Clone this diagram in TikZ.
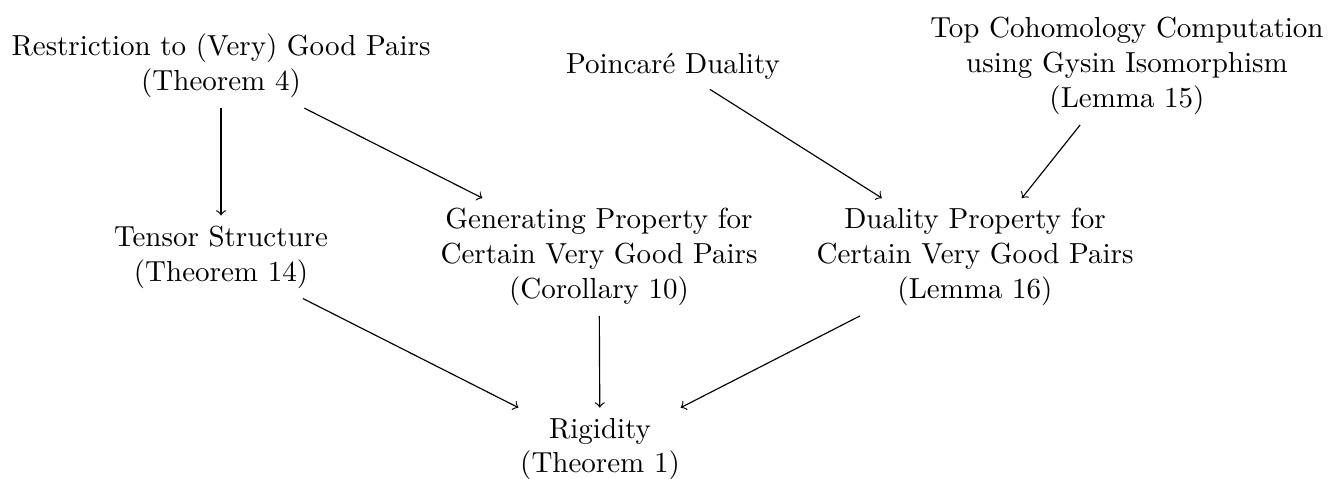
\documentclass[tikz,border=0pt]{standalone}
\usetikzlibrary{arrows}
\begin{document}
\begin{tikzpicture}[x=0.3448pt,y=-0.3448pt,
  box/.style={align=center},
  link/.style={->}]
\useasboundingbox (0,0) rectangle (1329,478);
\node[box] (A) at (221,66) {Restriction to (Very) Good Pairs\\(Theorem 4)};
\node[box] (P) at (673,66) {Poincar\'e Duality};
\node[box] (T) at (1127,66) {Top Cohomology Computation\\using Gysin Isomorphism\\(Lemma 15)};
\node[box] (TS) at (221,257) {Tensor Structure\\(Theorem 14)};
\node[box] (G) at (599,257) {Generating Property for\\Certain Very Good Pairs\\(Corollary 10)};
\node[box] (D) at (975,257) {Duality Property for\\Certain Very Good Pairs\\(Lemma 16)};
\node[box] (R) at (600,449) {Rigidity\\(Theorem 1)};
\draw[link] (A) -- (TS);
\draw[link] (A) -- (G);
\draw[link] (P) -- (D);
\draw[link] (T) -- (D);
\draw[link] (TS) -- (R);
\draw[link] (G) -- (R);
\draw[link] (D) -- (R);
\end{tikzpicture}
\end{document}
